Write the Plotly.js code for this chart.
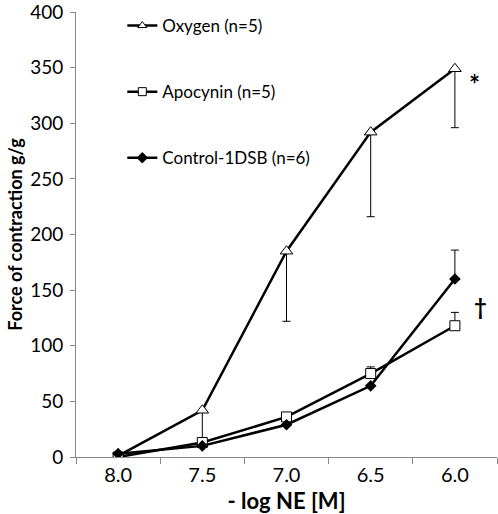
<!DOCTYPE html>
<html><head><meta charset="utf-8">
<script src="https://cdn.plot.ly/plotly-3.0.1.min.js"></script>
<style>body{margin:0;background:#fff}#c{width:498px;height:514px}</style>
</head><body><div id="c"></div>
<script>
const categories = ["8.0", "7.5", "7.0", "6.5", "6.0"];
const oxygen = [1, 42, 185, 292, 349];
const oxygenErrMinus = [0, 29, 63, 76, 53];
const apocynin = [0, 13, 36, 75, 118];
const apocyninErrPlus = [0, 0, 0, 6, 12];
const control = [3, 10, 29, 64, 160];
const controlErrPlus = [0, 0, 0, 0, 26];
const names = ["Oxygen (n=5)", "Apocynin (n=5)", "Control-1DSB (n=6)"];
const symbols = ["triangle-up", "square", "diamond"];
const fills = ["#fff", "#fff", "#000"];

const font = "Lato, 'Open Sans', sans-serif";
const T = 12, B = 57, H = 514;
const plotH = H - T - B;
const zeros = [0, 0, 0, 0, 0];
const traces = [
  {x: categories, y: oxygen, name: names[0], showlegend: false, type: "scatter", mode: "lines+markers",
   line: {color: "#000", width: 2.5},
   marker: {symbol: symbols[0], size: 11, color: fills[0], line: {color: "#000", width: 1}},
   error_y: {type: "data", symmetric: false, array: zeros, arrayminus: oxygenErrMinus, color: "#000", thickness: 1, width: 4}},
  {x: categories, y: apocynin, name: names[1], showlegend: false, type: "scatter", mode: "lines+markers",
   line: {color: "#000", width: 2.5},
   marker: {symbol: symbols[1], size: 10, color: fills[1], line: {color: "#000", width: 1}},
   error_y: {type: "data", symmetric: false, array: apocyninErrPlus, arrayminus: zeros, color: "#000", thickness: 1, width: 4}},
  {x: categories, y: control, name: names[2], showlegend: false, type: "scatter", mode: "lines+markers",
   line: {color: "#000", width: 2.5},
   marker: {symbol: symbols[2], size: 9, color: fills[2]},
   error_y: {type: "data", symmetric: false, array: controlErrPlus, arrayminus: zeros, color: "#000", thickness: 1, width: 4}}
];
// legend entries (small markers like the original)
names.forEach((n, i) => traces.push({
  x: [null], y: [null], name: n, legendgroup: "g" + i, type: "scatter", mode: "lines+markers",
  line: {color: "#000", width: 2.5},
  marker: {symbol: symbols[i], size: 8, color: fills[i], line: {color: "#000", width: 1}}
}));

const layout = {
  width: 498, height: 514,
  margin: {l: 76, r: 1, t: T, b: B},
  paper_bgcolor: "#fff", plot_bgcolor: "#fff",
  font: {family: font, color: "#000", size: 16},
  showlegend: true,
  legend: {x: 0.11, y: 1 + 4/plotH, xanchor: "left", yanchor: "top", bgcolor: "rgba(0,0,0,0)",
    font: {family: font, size: 17}, tracegroupgap: 41, itemwidth: 30, traceorder: "grouped"},
  xaxis: {type: "category", range: [-0.5, 4.5], tickson: "boundaries", ticks: "outside", ticklen: 6,
    tickcolor: "#888", showline: true, linecolor: "#888", linewidth: 1, showgrid: false, zeroline: false,
    tickfont: {size: 20}, fixedrange: true,
    title: {text: "<b>- log NE [M]</b>", font: {size: 22}, standoff: 8}},
  yaxis: {range: [0, 400], dtick: 50, tick0: 0, ticks: "outside", ticklen: 5, tickcolor: "#888",
    showline: true, linecolor: "#888", linewidth: 1, showgrid: false, zeroline: false,
    tickfont: {size: 19}, automargin: false, ticklabelstandoff: 3, ticklabeloverflow: "allow",
    title: {text: "<b>Force of contraction g/g</b>", font: {size: 18}, standoff: 2}},
  annotations: [
    {xref: "paper", yref: "paper", x: (482-76)/421, y: (457-66)/plotH, text: "<b>*</b>", showarrow: false, font: {size: 26, family: font, color: "#000"}},
    {xref: "paper", yref: "paper", x: (489-76)/421, y: (457-322)/plotH, text: "<b>†</b>", showarrow: false, font: {size: 22, family: font, color: "#000"}}
  ]
};
Plotly.newPlot("c", traces, layout, {displayModeBar: false, staticPlot: true});
</script></body></html>
